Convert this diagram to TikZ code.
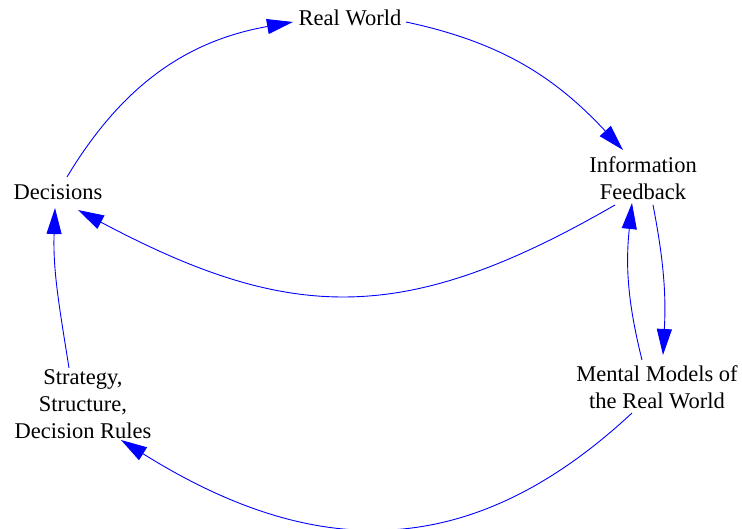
\documentclass[tikz,border=0pt]{standalone}
\usepackage{fontspec}
\setmainfont{Liberation Serif}
\usetikzlibrary{arrows.meta}
\begin{document}
\begin{tikzpicture}[x=1pt,y=1pt,
  lbl/.style={font=\fontsize{22.5}{27}\selectfont, align=center, inner sep=0pt},
  link/.style={draw=blue, line width=0.9pt, -{Triangle[length=26pt,width=15pt]}}]
\useasboundingbox (0,0) rectangle (742,529);
\node[lbl] (rw)   at (350,511.5) {Real World};
\node[lbl] (dec)  at (58,337)    {Decisions};
\node[lbl] (info) at (643,351)   {Information\\Feedback};
\node[lbl] (mm)   at (657,142)   {Mental Models of\\the Real World};
\node[lbl] (st)   at (83,125)    {Strategy,\\Structure,\\Decision Rules};
\draw[link] ([shift={(9,15)}]dec.center) to[out=59,in=190] ([shift={(-57,-4.5)}]rw.center);
\draw[link] ([shift={(56,-4.5)}]rw.center) to[out=-12,in=133] ([shift={(-20,28)}]info.center);
\draw[link] ([shift={(-28,-27)}]info.center) to[out=210,in=-28,looseness=1.15] ([shift={(20,-18)}]dec.center);
\draw[link] ([shift={(10,-27)}]info.center) to[out=-79,in=87] ([shift={(6,32)}]mm.center);
\draw[link] ([shift={(-15,27)}]mm.center) to[out=104,in=-96] ([shift={(-11,-25)}]info.center);
\draw[link] ([shift={(-25,-26)}]mm.center) to[out=223,in=-32,looseness=1.12] ([shift={(38,-36)}]st.center);
\draw[link] ([shift={(-14,36)}]st.center) to[out=99,in=-92] ([shift={(-3,-16)}]dec.center);
\end{tikzpicture}
\end{document}
